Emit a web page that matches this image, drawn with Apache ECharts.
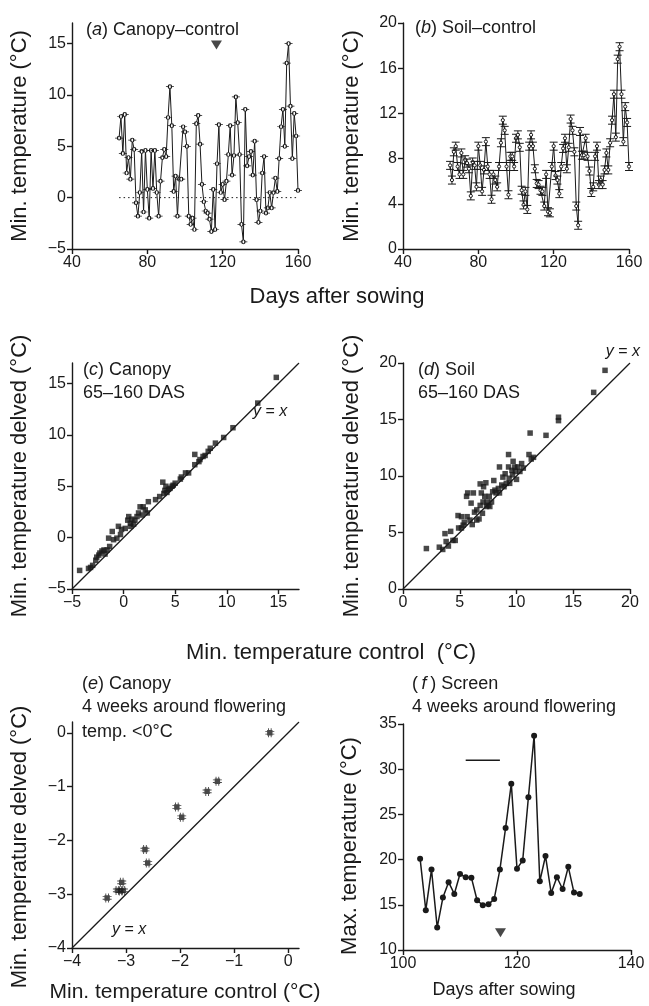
<!DOCTYPE html>
<html>
<head>
<meta charset="utf-8">
<script src="https://cdn.jsdelivr.net/npm/echarts@6/dist/echarts.min.js"></script>
<style>
  html, body { margin: 0; padding: 0; background: #fff; }
  #chart { width: 649px; height: 1006px; }
</style>
</head>
<body>
<div id="chart"></div>
<script>
// (a), (b): daily minimum temperature difference vs control, 65-160 days after sowing
const days = [65, 66, 67, 68, 69, 70, 71, 72, 73, 74, 75, 76, 77, 78, 79, 80, 81, 82, 83, 84,
  85, 86, 87, 88, 89, 90, 91, 92, 93, 94, 95, 96, 97, 98, 99, 100, 101, 102, 103, 104,
  105, 106, 107, 108, 109, 110, 111, 112, 113, 114, 115, 116, 117, 118, 119, 120, 121, 122, 123, 124,
  125, 126, 127, 128, 129, 130, 131, 132, 133, 134, 135, 136, 137, 138, 139, 140, 141, 142, 143, 144,
  145, 146, 147, 148, 149, 150, 151, 152, 153, 154, 155, 156, 157, 158, 159, 160]
const canopyMin = [5.8, 7.9, 4.3, 8.1, 2.4, 3.9, 1.8, 5.6, 4.7, -0.5,
  -1.8, 0.5, 4.5, -1.4, 4.6, 0.8, -2.0, 4.6, 0.9, 4.6,
  0.5, -1.8, 1.6, 3.9, 4.7, 4.0, 7.8, 10.8, 7.0, 0.6,
  2.1, -1.8, 1.8, 1.8, 6.9, 6.4, 5.0, -1.8, -2.6, -2.0,
  -3.1, 7.2, 8.0, 5.2, 1.3, -0.4, -1.3, -1.5, -2.1, -3.3,
  0.8, -3.1, 3.3, 7.1, 0.5, 1.3, -0.2, 1.6, 4.2, 7.0,
  2.2, 4.1, 9.8, 7.3, 4.2, -2.6, -4.3, 8.6, 3.1, 4.0,
  4.5, 2.2, 5.5, -0.2, -2.4, -1.3, 2.4, 4.0, -1.5, -1.0,
  0.5, -1.0, 0.5, 1.9, 0.6, 3.8, 6.9, 8.6, 5.0, 13.1,
  15.0, 8.9, 3.8, 8.2, 6.0, 0.7]
const soilMin = [7.4, 6.1, 8.6, 9.1, 7.3, 6.6, 8.5, 6.6, 7.9, 7.6,
  7.1, 4.7, 7.7, 7.4, 5.5, 9.1, 7.4, 5.1, 7.0, 9.5,
  7.3, 6.6, 4.4, 6.6, 6.1, 5.5, 7.3, 9.4, 11.4, 10.5,
  7.3, 4.8, 8.2, 8.2, 7.3, 9.8, 10.1, 9.0, 5.2, 3.9,
  5.1, 3.5, 9.1, 10.1, 9.1, 7.1, 5.8, 5.7, 5.2, 5.1,
  3.8, 6.6, 3.3, 3.2, 7.3, 9.1, 6.5, 6.1, 4.9, 7.3,
  8.9, 9.8, 7.1, 9.0, 11.5, 10.5, 8.6, 3.8, 2.1, 10.4,
  8.3, 8.3, 9.8, 8.2, 6.9, 5.0, 5.5, 8.2, 9.1, 5.7,
  6.1, 5.7, 7.0, 8.5, 7.0, 9.4, 11.4, 13.7, 9.9, 16.8,
  17.9, 13.7, 9.5, 12.6, 11.2, 7.3]
const zeroLine = [[65, 0], [160, 0]]
const flowerMarkA = [[116.7, 14.85]]

// (c) canopy, (d) soil: delved vs control
const cControl = [-4.26, -3.4, -3.2, -3.0, -2.7, -2.6, -2.4, -2.3, -2.1, -1.9, -1.8, -1.6, -1.45, -1.35, -1.1, -0.97,
  -0.65, -0.5, -0.3, -0.2, 0.16, 0.4, 0.5, 0.65, 0.7, 0.8, 0.97, 1.1, 1.3, 1.45, 1.6, 1.8, 1.9, 2.1, 2.3, 2.4,
  3.1, 3.5, 3.8, 3.9, 4.0, 4.1, 4.2, 4.35, 4.5, 4.7, 4.8, 5.0, 5.5, 5.6, 6.0, 6.3, 6.9, 6.9, 7.3, 7.4, 7.7,
  7.9, 8.2, 8.4, 8.9, 9.7, 10.6, 13.0, 14.8]
const cDelved = [-3.19, -3.0, -2.9, -2.7, -2.2, -1.9, -1.7, -1.5, -1.3, -1.2, -1.6, -1.2, -0.05, -0.86, 0.6, -0.2,
  -0.05, 1.1, 0.3, 0.8, 0.9, 1.7, 2.05, 1.4, 1.1, 1.8, 1.3, 1.7, 2.05, 2.4, 3.0, 2.2, 3.0, 2.7, 2.4, 3.5,
  3.7, 4.0, 5.4, 4.3, 4.6, 5.0, 4.4, 4.7, 4.8, 5.0, 5.1, 5.3, 5.7, 5.9, 6.3, 6.3, 8.1, 7.1, 7.4, 7.6, 7.9,
  8.0, 8.4, 8.7, 9.2, 9.75, 10.7, 13.1, 15.6]
const dControl = [2.06, 3.2, 3.5, 3.7, 3.8, 4.0, 4.2, 4.4, 4.6, 4.85, 4.9, 5.15, 5.15, 5.3, 5.4, 5.6, 5.65, 5.7, 5.9,
  6.0, 6.1, 6.2, 6.3, 6.5, 6.5, 6.7, 6.8, 6.8, 6.9, 7.0, 7.05, 7.1, 7.2, 7.3, 7.35, 7.4, 7.5, 7.6, 7.65, 7.8,
  7.9, 8.0, 8.1, 8.2, 8.4, 8.5, 8.5, 8.7, 8.8, 8.9, 9.0, 9.1, 9.3, 9.3, 9.35, 9.4, 9.6, 9.65, 9.7, 9.85,
  9.9, 10.0, 10.1, 10.3, 10.45, 10.6, 11.1, 11.2, 11.3, 11.5, 12.6, 13.7, 13.7, 16.8, 17.8]
const dDelved = [3.58, 3.7, 3.5, 4.9, 4.2, 3.8, 5.1, 4.3, 4.3, 6.5, 5.4, 6.4, 5.4, 5.65, 5.9, 8.2, 6.4, 8.5, 6.1,
  7.6, 5.7, 8.5, 6.8, 6.1, 7.0, 6.2, 7.4, 9.3, 8.5, 6.7, 7.7, 9.05, 8.2, 9.4, 7.3, 7.7, 7.4, 8.2, 7.3, 7.7,
  8.6, 9.6, 8.75, 8.5, 8.9, 10.8, 8.5, 9.2, 9.9, 9.05, 10.2, 9.35, 11.9, 10.8, 9.8, 9.35, 10.5, 10.1, 11.3, 10.8,
  10.4, 9.7, 10.8, 10.4, 11.1, 10.7, 11.9, 13.8, 11.5, 11.65, 13.6, 15.2, 14.9, 17.4, 19.35]

// (e) canopy, 4 weeks around flowering, temp < 0
const eControl = [-3.35, -3.16, -3.1, -3.08, -3.05, -2.65, -2.6, -2.06, -1.97, -1.5, -1.31, -0.34]
const eDelved = [-3.07, -2.93, -2.94, -2.78, -2.93, -2.17, -2.42, -1.38, -1.57, -1.09, -0.9, 0.0]

// (f) screen max temperature
const fDays = [103, 104, 105, 106, 107, 108, 109, 110, 111, 112, 113, 114, 115, 116, 117,
  118, 119, 120, 121, 122, 123, 124, 125, 126, 127, 128, 129, 130, 131]
const fMax = [20.1, 14.4, 18.9, 12.5, 15.8, 17.5, 16.2, 18.4, 18.05, 18.0, 15.5, 14.95, 15.05, 15.65, 18.9,
  23.5, 28.4, 19.0, 19.9, 26.9, 33.7, 17.6, 20.4, 16.3, 18.05, 16.75, 19.2, 16.35, 16.2]
const flowerBar = [[111, 31], [117, 31]]
const flowerMarkF = [[117.1, 11.9]]

// tick labels
const ticksA = [-5, 0, 5, 10, 15]
const ticksE = [-4, -3, -2, -1, 0]

const FONT = 'Liberation Sans'
const INK = '#1a1a1a'

const zip = (xs, ys) => xs.map((x, i) => [x, ys[i]])
const minus = v => String(v).replace('-', '\u2212')

function axis(gridIndex, min, max, opts) {
  opts = opts || {}
  const tick = { show: true, inside: false, length: 5, lineStyle: { color: INK, width: 1.4 } }
  const label = { color: INK, fontSize: 16, fontFamily: FONT, margin: 6, formatter: minus }
  if (opts.ticks) {
    tick.customValues = opts.ticks
    label.customValues = opts.ticks
  }
  const a = {
    type: 'value',
    gridIndex: gridIndex,
    min: min,
    max: max,
    axisLine: { show: true, onZero: false, lineStyle: { color: INK, width: 1.4 } },
    axisTick: tick,
    axisLabel: label,
    splitLine: { show: false }
  }
  if (opts.interval) a.interval = opts.interval
  return a
}

function text(x, y, str, size, opts) {
  size = size || 18
  return Object.assign({
    type: 'text',
    x: x,
    y: y,
    silent: true,
    style: Object.assign({
      text: str,
      fill: INK,
      fontSize: size,
      fontFamily: FONT,
      textAlign: 'left',
      verticalAlign: 'middle',
      textVerticalAlign: 'middle',
      rich: { i: { fontSize: size, fontFamily: FONT, fontStyle: 'italic', fill: INK } }
    }, opts && opts.style)
  }, opts && opts.el)
}

function vtext(x, y, str, size) {
  return text(x, y, str, size, { el: { rotation: Math.PI / 2 }, style: { textAlign: 'center' } })
}

function htitle(x, y, str, size) {
  return text(x, y, str, size, { style: { textAlign: 'center' } })
}

const symA = 'path://M0 5H3M7 5H10M3 5A2 2 0 1 1 7 5A2 2 0 1 1 3 5Z'
const symB = 'path://M0 0H10M0 10H10M5 0V3M5 7V10M3 5A2 2 0 1 1 7 5A2 2 0 1 1 3 5Z'
const symE = 'path://M2 2H8V8H2Z M0 3H10V4H0Z M0 6H10V7H0Z M3 0H4V10H3Z M6 0H7V10H6Z'

function refLine(idx, data, extra) {
  return Object.assign({
    type: 'line', xAxisIndex: idx, yAxisIndex: idx, data: data,
    symbol: 'none', silent: true, z: 1,
    lineStyle: { color: INK, width: 1.3 }
  }, extra)
}

const option = {
  animation: false,
  backgroundColor: '#fff',
  grid: [
    { left: 72, top: 23, width: 226, height: 226 },
    { left: 403, top: 23, width: 226, height: 226 },
    { left: 72, top: 363, width: 227, height: 226 },
    { left: 403, top: 363, width: 227, height: 226 },
    { left: 72, top: 722, width: 227, height: 226 },
    { left: 403, top: 724, width: 228, height: 226 }
  ],
  xAxis: [
    axis(0, 40, 160, { interval: 40 }),
    axis(1, 40, 160, { interval: 40 }),
    axis(2, -5, 17, { ticks: ticksA }),
    axis(3, 0, 20, { interval: 5 }),
    axis(4, -4, 0.2, { ticks: ticksE }),
    axis(5, 100, 140, { interval: 20 })
  ],
  yAxis: [
    axis(0, -5, 17, { ticks: ticksA }),
    axis(1, 0, 20, { interval: 4 }),
    axis(2, -5, 17, { ticks: ticksA }),
    axis(3, 0, 20, { interval: 5 }),
    axis(4, -4, 0.2, { ticks: ticksE }),
    axis(5, 10, 35, { interval: 5 })
  ],
  series: [
    // (a)
    refLine(0, zeroLine, { lineStyle: { color: INK, width: 1, type: [1.5, 3] } }),
    {
      type: 'line', xAxisIndex: 0, yAxisIndex: 0,
      data: zip(days, canopyMin),
      symbol: symA, symbolSize: [8, 4], showAllSymbol: true,
      lineStyle: { color: INK, width: 1 },
      itemStyle: { color: '#fff', borderColor: INK, borderWidth: 1 }
    },
    {
      type: 'scatter', xAxisIndex: 0, yAxisIndex: 0, data: flowerMarkA,
      symbol: 'triangle', symbolRotate: 180, symbolSize: [11, 9],
      itemStyle: { color: INK }
    },
    // (b)
    {
      type: 'line', xAxisIndex: 1, yAxisIndex: 1,
      data: zip(days, soilMin),
      symbol: symB, symbolSize: [8, 8], showAllSymbol: true,
      lineStyle: { color: INK, width: 1 },
      itemStyle: { color: '#fff', borderColor: INK, borderWidth: 1 }
    },
    // (c)
    refLine(2, [[-5, -5], [17, 17]]),
    {
      type: 'scatter', xAxisIndex: 2, yAxisIndex: 2,
      data: zip(cControl, cDelved),
      symbol: 'rect', symbolSize: 5.5, itemStyle: { color: INK }
    },
    // (d)
    refLine(3, [[0, 0], [20, 20]]),
    {
      type: 'scatter', xAxisIndex: 3, yAxisIndex: 3,
      data: zip(dControl, dDelved),
      symbol: 'rect', symbolSize: 5.5, itemStyle: { color: INK }
    },
    // (e)
    refLine(4, [[-4, -4], [0.2, 0.2]]),
    {
      type: 'scatter', xAxisIndex: 4, yAxisIndex: 4,
      data: zip(eControl, eDelved),
      symbol: symE, symbolSize: 9, itemStyle: { color: INK }
    },
    // (f)
    {
      type: 'line', xAxisIndex: 5, yAxisIndex: 5,
      data: zip(fDays, fMax),
      symbol: 'circle', symbolSize: 6, showAllSymbol: true,
      lineStyle: { color: INK, width: 1.5 },
      itemStyle: { color: INK }
    },
    refLine(5, flowerBar, { lineStyle: { color: INK, width: 1.5 } }),
    {
      type: 'scatter', xAxisIndex: 5, yAxisIndex: 5, data: flowerMarkF,
      symbol: 'triangle', symbolRotate: 180, symbolSize: [11, 9],
      itemStyle: { color: INK }
    }
  ],
  graphic: [
    text(86, 30, '({i|a}) Canopy\u2013control'),
    text(415, 28, '({i|b}) Soil\u2013control'),
    text(83, 370, '({i|c}) Canopy'),
    text(83, 393, '65\u2013160 DAS'),
    text(418, 370, '({i|d}) Soil'),
    text(418, 393, '65\u2013160 DAS'),
    text(82, 684, '({i|e}) Canopy'),
    text(82, 707, '4 weeks around flowering'),
    text(82, 732, 'temp. <0\u00b0C'),
    text(412, 684, '(\u2009{i|f}\u2009) Screen'),
    text(412, 707, '4 weeks around flowering'),
    text(253, 412, '{i|y} = {i|x}', 16),
    text(640, 352, '{i|y} = {i|x}', 16, { style: { textAlign: 'right' } }),
    text(112, 930, '{i|y} = {i|x}', 16),
    vtext(20, 136, 'Min. temperature (\u00b0C)', 22),
    vtext(352, 136, 'Min. temperature (\u00b0C)', 22),
    htitle(337, 297, 'Days after sowing', 22),
    vtext(20, 476, 'Min. temperature delved (\u00b0C)', 22),
    vtext(352, 476, 'Min. temperature delved (\u00b0C)', 22),
    htitle(331, 653, 'Min. temperature control  (\u00b0C)', 22),
    vtext(20, 847, 'Min. temperature delved (\u00b0C)', 22),
    htitle(185, 992, 'Min. temperature control (\u00b0C)', 21),
    vtext(350, 846, 'Max. temperature (\u00b0C)', 22),
    htitle(504, 990, 'Days after sowing', 18)
  ]
}

const chart = echarts.init(document.getElementById('chart'))
chart.setOption(option)
</script>
</body>
</html>
